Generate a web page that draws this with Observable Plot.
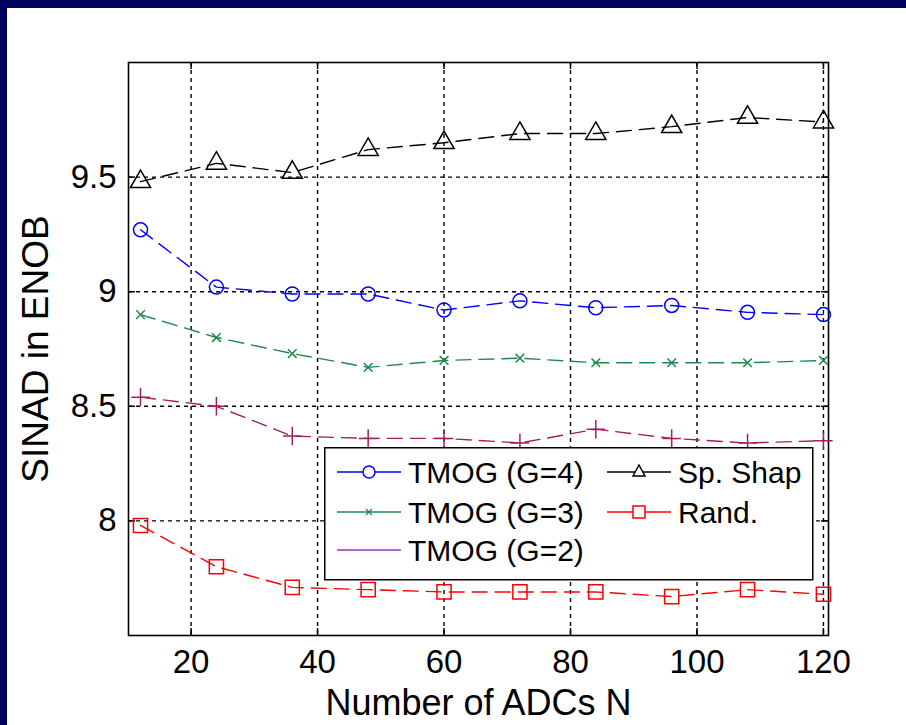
<!DOCTYPE html>
<html>
<head>
<meta charset="utf-8">
<script src="https://cdn.jsdelivr.net/npm/d3@7"></script>
<script src="https://cdn.jsdelivr.net/npm/@observablehq/plot@0.6"></script>
<style>
  html, body { margin: 0; padding: 0; background: #00005e; width: 906px; height: 725px; overflow: hidden; }
  #wrap { position: absolute; left: 7px; top: 8px; width: 899px; height: 717px; background: #fff; }
  #legend { position: absolute; left: 324px; top: 447px; }
  svg text { font-family: "Liberation Sans", Arial, sans-serif; }
</style>
</head>
<body>
<div id="wrap"></div>
<svg id="legend" width="490" height="134"></svg>
<script>
const nADC   = [12, 24, 36, 48, 60, 72, 84, 96, 108, 120];
const spShap = [9.48, 9.56, 9.52, 9.62, 9.65, 9.69, 9.69, 9.72, 9.76, 9.74];
const tmogG4 = [9.27, 9.02, 8.99, 8.99, 8.92, 8.96, 8.93, 8.94, 8.91, 8.90];
const tmogG3 = [8.90, 8.80, 8.73, 8.67, 8.70, 8.71, 8.69, 8.69, 8.69, 8.70];
const tmogG2 = [8.54, 8.50, 8.37, 8.36, 8.36, 8.34, 8.40, 8.36, 8.34, 8.35];
const randV  = [7.98, 7.80, 7.71, 7.70, 7.69, 7.69, 7.69, 7.67, 7.70, 7.68];
const xTicks = [20, 40, 60, 80, 100, 120];
const yTicks = [8, 8.5, 9, 9.5];
const yTickLabels = ["8", "8.5", "9", "9.5"];

const series = [
  {name: "TMOG (G=4)", values: tmogG4, color: "#0000ff", symbol: "circle", r: 7},
  {name: "TMOG (G=3)", values: tmogG3, color: "#1f8a4c", symbol: "times", r: 4},
  {name: "TMOG (G=2)", values: tmogG2, color: "#a0205e", symbol: "plus", r: 6},
  {name: "Sp. Shap",   values: spShap, color: "#000000", symbol: "triangle", r: 7.5},
  {name: "Rand.",      values: randV,  color: "#ff0000", symbol: "square", r: 8}
];
const rows = s => nADC.map((x, i) => ({x, y: s.values[i]}));

const W = 899, H = 717, mL = 121, mR = 78, mT = 54, mB = 90;
const fH = H - mT - mB, fW = W - mL - mR;
const dash = {stroke: "black", strokeOpacity: 1, strokeWidth: 1.4, strokeDasharray: "4,4"};

const marks = [
  Plot.gridX(xTicks, dash),
  Plot.gridY(yTicks, dash),
  Plot.tickX(xTicks, {x: d => d, insetBottom: fH - 7, strokeWidth: 1.5}),
  Plot.tickX(xTicks, {x: d => d, insetTop: fH - 7, strokeWidth: 1.5}),
  Plot.tickY(yTicks, {y: d => d, insetRight: fW - 7, strokeWidth: 1.5}),
  Plot.tickY(yTicks, {y: d => d, insetLeft: fW - 7, strokeWidth: 1.5}),
  Plot.frame({stroke: "black", strokeWidth: 1.6})
];
for (const s of series) {
  marks.push(Plot.line(rows(s), {x: "x", y: "y", stroke: s.color, strokeWidth: 1.4, strokeDasharray: "15,8"}));
  marks.push(Plot.dot(rows(s), {x: "x", y: "y", stroke: s.color, symbol: s.symbol, r: s.r, strokeWidth: 1.5, fill: "none"}));
}
marks.push(
  Plot.axisX(xTicks, {tickSize: 0, tickPadding: 14, fontSize: 33, label: null}),
  Plot.axisY(yTicks, {tickSize: 0, tickPadding: 12, fontSize: 33, label: null, tickFormat: d => yTickLabels[yTicks.indexOf(d)]}),
  Plot.axisX([], {tickSize: 0, fontSize: 36, label: "Number of ADCs N", labelAnchor: "center", labelArrow: "none", labelOffset: 79}),
  Plot.axisY([], {tickSize: 0, fontSize: 37, label: "SINAD in ENOB", labelAnchor: "center", labelArrow: "none", labelOffset: 107})
);

const chart = Plot.plot({
  width: W, height: H,
  marginLeft: mL, marginRight: mR, marginTop: mT, marginBottom: mB,
  x: {domain: [10.1, 120.8]},
  y: {domain: [7.5, 10]},
  style: {fontFamily: '"Liberation Sans", Arial, sans-serif', background: "white", color: "black", overflow: "visible"},
  marks
});
document.getElementById("wrap").appendChild(chart);

// Legend
const lg = d3.select("#legend");
lg.append("rect").attr("x", 0.75).attr("y", 0.75).attr("width", 488).attr("height", 132)
  .attr("fill", "white").attr("stroke", "black").attr("stroke-width", 1.5);
const legendColors = {"TMOG (G=2)": "#9a33b0"};
const pos = [
  {cx: 13, ty: 25}, {cx: 13, ty: 65}, {cx: 13, ty: 103},
  {cx: 283, ty: 25}, {cx: 283, ty: 65}
];
series.forEach((s, i) => {
  const p = pos[i];
  const col = legendColors[s.name] || s.color;
  const g = lg.append("g");
  g.append("line").attr("x1", p.cx).attr("x2", p.cx + 64).attr("y1", p.ty).attr("y2", p.ty)
    .attr("stroke", col).attr("stroke-width", 1.5);
  const mx = p.cx + 32, my = p.ty;
  if (s.symbol === "circle") {
    g.append("circle").attr("cx", mx).attr("cy", my).attr("r", 6).attr("fill", "white").attr("stroke", col).attr("stroke-width", 1.5);
  } else if (s.symbol === "square") {
    g.append("rect").attr("x", mx - 6).attr("y", my - 6).attr("width", 12).attr("height", 12).attr("fill", "white").attr("stroke", col).attr("stroke-width", 1.5);
  } else if (s.symbol === "triangle") {
    g.append("path").attr("d", `M${mx},${my - 7}L${mx + 6},${my + 4}L${mx - 6},${my + 4}Z`).attr("fill", "white").attr("stroke", col).attr("stroke-width", 1.5);
  } else if (s.symbol === "times") {
    g.append("path").attr("d", `M${mx - 3},${my - 3}L${mx + 3},${my + 3}M${mx + 3},${my - 3}L${mx - 3},${my + 3}`).attr("stroke", col).attr("stroke-width", 1.3);
  }
  g.append("text").attr("x", p.cx + 71).attr("y", p.ty).attr("dy", "0.36em")
    .attr("font-size", 30).attr("fill", "black").text(s.name);
});
</script>
</body>
</html>
